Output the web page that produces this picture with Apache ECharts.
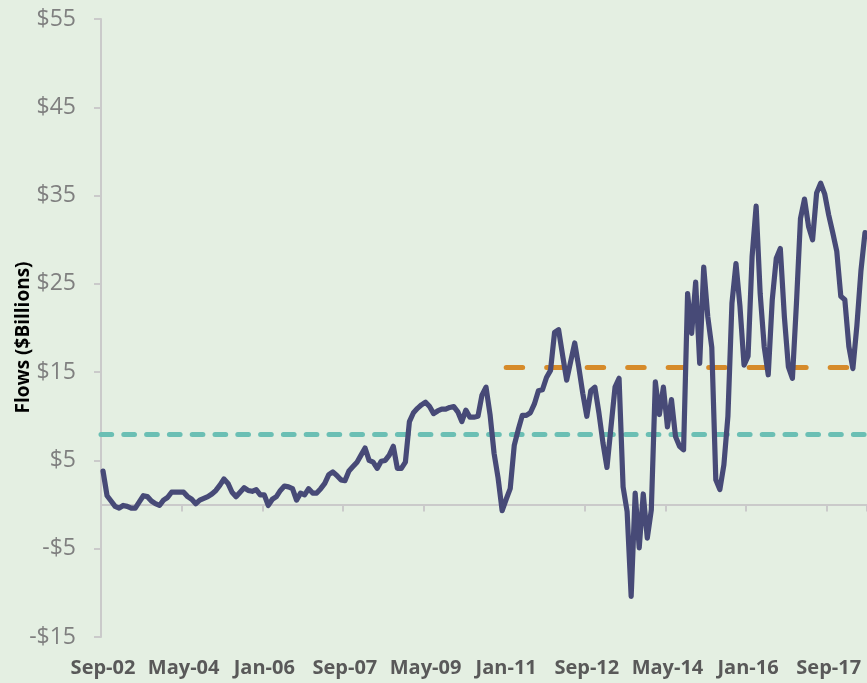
<!DOCTYPE html>
<html>
<head>
<meta charset="utf-8">
<script src="https://cdn.jsdelivr.net/npm/echarts@6/dist/echarts.min.js"></script>
<style>
html,body{margin:0;padding:0;background:#e4efe2;}
#chart{width:867px;height:683px;}
</style>
</head>
<body>
<div id="chart"></div>
<script>
// Monthly categories from Sep-02
const monthNames = ['Jan','Feb','Mar','Apr','May','Jun','Jul','Aug','Sep','Oct','Nov','Dec'];
const startYear = 2002, startMonth = 8, monthCount = 190;
const categories = [];
for (let i = 0; i < monthCount; i++) {
  const m = (startMonth + i) % 12;
  const y = startYear + Math.floor((startMonth + i) / 12);
  categories.push(monthNames[m] + '-' + String(y % 100).padStart(2, '0'));
}

// Flows ($ billions)
const flows = [
  3.8, 1.0, 0.4, -0.2, -0.4, -0.1, -0.2, -0.4, -0.4, 0.3,
  1.0, 0.9, 0.4, 0.1, -0.1, 0.5, 0.8, 1.4, 1.4, 1.4,
  1.4, 0.9, 0.6, 0.1, 0.5, 0.7, 0.9, 1.2, 1.6, 2.2,
  2.9, 2.4, 1.4, 0.9, 1.4, 1.9, 1.6, 1.5, 1.7, 1.1,
  1.1, -0.1, 0.6, 0.9, 1.6, 2.1, 2.0, 1.8, 0.5, 1.3,
  1.1, 1.8, 1.3, 1.3, 1.8, 2.4, 3.4, 3.7, 3.3, 2.8,
  2.7, 3.8, 4.3, 4.8, 5.6, 6.4, 5.0, 4.8, 4.1, 4.9,
  5.0, 5.6, 6.6, 4.1, 4.1, 4.8, 9.4, 10.4, 10.9, 11.3,
  11.6, 11.1, 10.3, 10.6, 10.8, 10.8, 11.0, 11.1, 10.5, 9.4,
  10.7, 9.9, 9.9, 10.0, 12.4, 13.3, 10.2, 5.8, 3.0, -0.7,
  0.6, 1.8, 6.7, 8.5, 10.1, 10.1, 10.4, 11.4, 12.9, 13.0,
  14.4, 15.2, 19.5, 19.8, 16.9, 14.1, 16.2, 18.3, 15.6, 12.6,
  10.0, 12.9, 13.3, 10.4, 7.0, 4.2, 8.8, 13.3, 14.3, 2.0,
  -0.8, -10.4, 1.3, -4.9, 1.2, -3.8, -0.6, 13.9, 10.2, 13.3,
  8.8, 11.9, 7.7, 6.6, 6.2, 23.9, 19.4, 25.2, 16.0, 26.9,
  21.3, 17.8, 2.8, 1.7, 4.5, 10.0, 22.8, 27.3, 22.4, 15.8,
  16.8, 28.1, 33.8, 23.9, 17.9, 14.7, 23.2, 27.9, 29.0, 21.3,
  15.6, 14.3, 22.8, 32.4, 34.6, 31.5, 30.0, 35.3, 36.4, 35.2,
  32.8, 30.8, 28.7, 23.6, 23.2, 17.9, 15.4, 20.3, 26.5, 30.8
];

// Reference averages
const longAverage = 8.0;          // whole period
const recentAverage = 15.5;       // from Jan-11 onward
const recentStart = 'Jan-11';

// Y axis ticks
const yMin = -15, yMax = 55, yStep = 10;

const chart = echarts.init(document.getElementById('chart'), null, {renderer: 'canvas'});

const xCommon = {
  type: 'category',
  data: categories,
  boundaryGap: true,
  splitLine: {show: false}
};

chart.setOption({
  backgroundColor: '#e4efe2',
  animation: false,
  grid: {left: 101, right: -2.4, top: 19, bottom: 46, containLabel: false},
  graphic: [{
    type: 'text',
    x: 24, y: 337.5,
    rotation: Math.PI / 2,
    style: {
      text: 'Flows ($Billions)',
      font: 'bold 19px "Open Sans"',
      fill: '#000000',
      textAlign: 'center',
      textVerticalAlign: 'middle'
    }
  }],
  xAxis: [
    Object.assign({}, xCommon, {
      position: 'bottom',
      axisLine: {show: false, onZero: false},
      axisTick: {show: false},
      axisLabel: {
        interval: 19,
        margin: 21,
        color: '#595959',
        fontFamily: 'Open Sans',
        fontWeight: 'bold',
        fontSize: 20
      }
    }),
    Object.assign({}, xCommon, {
      position: 'bottom',
      axisLine: {show: true, onZero: true, lineStyle: {color: '#cacaca', width: 2}},
      axisTick: {show: true, interval: 19, length: 7, alignWithLabel: false, lineStyle: {color: '#cacaca', width: 2}},
      axisLabel: {show: false}
    })
  ],
  yAxis: {
    type: 'value',
    min: yMin, max: yMax, interval: yStep,
    splitLine: {show: false},
    axisLine: {show: true, lineStyle: {color: '#cacaca', width: 2}},
    axisTick: {show: true, length: 7, lineStyle: {color: '#cacaca', width: 2}},
    axisLabel: {
      margin: 25,
      color: '#7f7f7f',
      fontFamily: 'Open Sans',
      fontSize: 23,
      formatter: v => (v < 0 ? '-$' + Math.abs(v) : '$' + v)
    }
  },
  series: [
    {
      type: 'line',
      data: flows,
      xAxisIndex: 0,
      showSymbol: false,
      symbol: 'none',
      lineStyle: {color: '#474a77', width: 5.2, cap: 'round', join: 'round'},
      z: 5,
      markLine: {
        silent: true,
        symbol: ['none', 'none'],
        label: {show: false},
        animation: false,
        data: [
          [{xAxis: categories[0], yAxis: longAverage, x: 101},
           {xAxis: categories[categories.length - 1], yAxis: longAverage, x: 869}],
          [{xAxis: recentStart, yAxis: recentAverage,
            lineStyle: {color: '#d68b2a', width: 5, type: [16.5, 24], cap: 'round'}},
           {xAxis: categories[categories.length - 1], yAxis: recentAverage}]
        ],
        lineStyle: {color: '#6bbfb4', width: 5, type: [10.7, 12.1], cap: 'round'}
      }
    }
  ]
});
</script>
</body>
</html>
